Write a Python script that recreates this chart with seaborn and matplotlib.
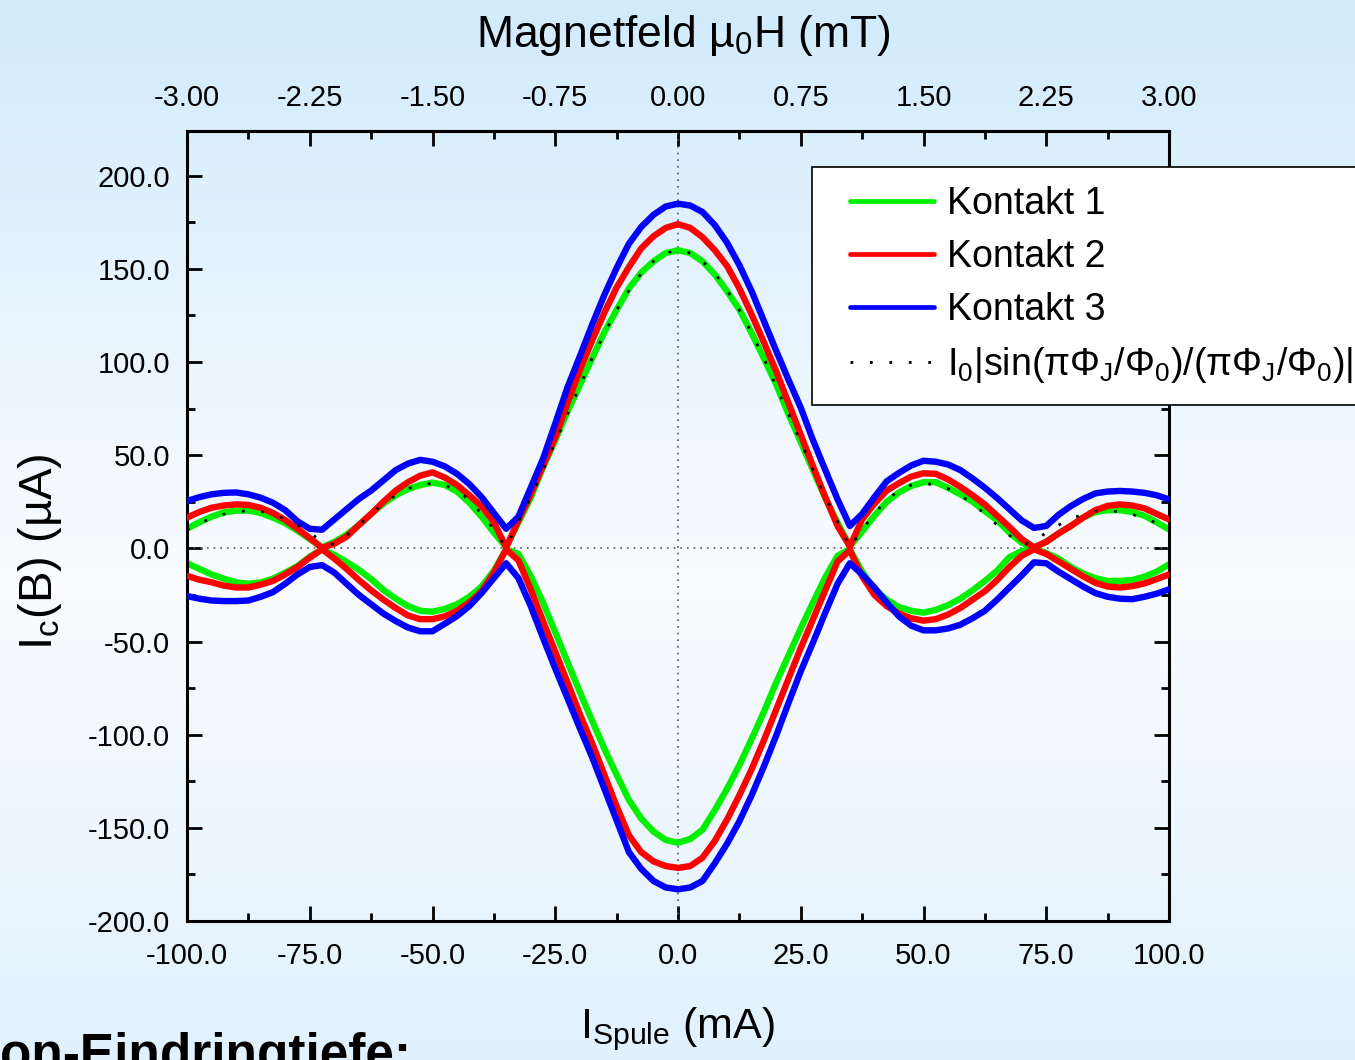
import numpy as np
import pandas as pd
import matplotlib
matplotlib.use("Agg")
import matplotlib.pyplot as plt
import seaborn as sns
from matplotlib.lines import Line2D
from matplotlib.patches import Rectangle
from matplotlib.ticker import MultipleLocator, FormatStrFormatter

# ---------------- data ----------------
I_SPULE = [-100.0, -97.5, -95.0, -92.5, -90.0, -87.5, -85.0, -82.5, -80.0, -77.5,
           -75.0, -72.5, -70.0, -67.5, -65.0, -62.5, -60.0, -57.5, -55.0, -52.5,
           -50.0, -47.5, -45.0, -42.5, -40.0, -37.5, -35.0, -32.5, -30.0, -27.5,
           -25.0, -22.5, -20.0, -17.5, -15.0, -12.5, -10.0, -7.5, -5.0, -2.5,
           0.0, 2.5, 5.0, 7.5, 10.0, 12.5, 15.0, 17.5, 20.0, 22.5,
           25.0, 27.5, 30.0, 32.5, 35.0, 37.5, 40.0, 42.5, 45.0, 47.5,
           50.0, 52.5, 55.0, 57.5, 60.0, 62.5, 65.0, 67.5, 70.0, 72.5,
           75.0, 77.5, 80.0, 82.5, 85.0, 87.5, 90.0, 92.5, 95.0, 97.5, 100.0]

K1_UP = [10.6, 14.0, 17.0, 19.3, 20.2, 20.3, 19.0, 16.5, 13.5, 9.5,
         5.0, 0.5, 3.5, 7.3, 12.5, 18.5, 24.0, 28.5, 31.8, 34.0,
         35.3, 34.0, 30.5, 24.5, 17.0, 8.5, 0.5, 14.0, 27.2, 43.5,
         58.0, 73.5, 87.5, 102.0, 116.0, 128.0, 139.5, 148.0, 154.0, 158.5,
         160.0, 158.5, 154.0, 147.0, 138.0, 128.2, 115.5, 102.0, 88.0, 72.0,
         57.0, 42.0, 27.0, 13.8, 1.0, 9.0, 17.5, 25.0, 30.0, 33.5,
         35.5, 35.5, 32.5, 29.0, 25.0, 20.0, 15.0, 8.5, 3.0, 0.5,
         3.5, 8.0, 12.0, 16.5, 19.5, 20.5, 20.5, 19.5, 17.5, 14.0, 10.2]

K1_LO = [-8.0, -11.0, -14.0, -16.3, -18.2, -19.0, -18.3, -16.3, -13.0, -9.5,
         -4.5, -0.5, -3.5, -7.3, -11.5, -16.5, -22.3, -27.0, -31.0, -33.5,
         -34.0, -32.5, -30.0, -26.0, -20.5, -12.0, -0.5, -3.0, -14.8, -29.0,
         -45.0, -61.0, -77.0, -92.5, -107.5, -121.5, -135.0, -145.0, -152.0, -156.5,
         -158.0, -156.0, -151.0, -140.5, -129.0, -116.3, -102.3, -87.7, -72.0, -57.5,
         -43.0, -29.0, -15.5, -4.0, -0.5, -12.5, -22.0, -27.5, -31.5, -33.5,
         -34.5, -33.0, -30.5, -27.0, -22.5, -17.5, -12.0, -4.7, -1.5, 0.0,
         -2.5, -5.5, -10.0, -13.5, -16.0, -17.5, -17.5, -17.0, -15.2, -12.5, -8.6]

K2_UP = [16.5, 19.5, 21.8, 23.0, 23.6, 23.3, 21.8, 19.0, 15.2, 10.5,
         5.5, 0.3, 2.5, 6.3, 12.5, 18.5, 25.0, 31.0, 35.5, 39.0,
         40.8, 38.0, 34.0, 28.5, 22.5, 14.0, 0.5, 15.0, 29.0, 44.3,
         59.5, 78.0, 95.5, 111.5, 126.5, 140.0, 151.0, 161.0, 167.5, 172.0,
         174.0, 172.0, 167.0, 160.0, 151.5, 139.5, 125.5, 110.5, 95.0, 78.0,
         61.0, 44.0, 27.5, 12.0, 1.0, 15.5, 24.0, 31.0, 35.0, 38.5,
         40.3, 40.0, 37.0, 33.0, 28.5, 23.5, 17.5, 11.5, 5.0, 0.5,
         3.5, 8.0, 12.0, 16.5, 20.5, 22.8, 23.6, 23.0, 21.5, 18.5, 15.5]

K2_LO = [-14.8, -16.8, -18.2, -20.0, -21.0, -21.0, -19.5, -17.5, -14.0, -10.0,
         -5.0, -0.5, -5.5, -11.0, -17.0, -22.5, -27.5, -32.0, -36.0, -38.0,
         -38.0, -36.5, -33.5, -29.0, -23.0, -13.0, -0.5, -6.5, -22.0, -39.0,
         -55.5, -72.0, -89.0, -104.5, -121.5, -138.5, -154.0, -163.0, -168.0, -170.5,
         -171.5, -170.5, -166.0, -157.0, -145.5, -132.5, -118.5, -103.0, -86.5, -70.0,
         -53.5, -38.0, -22.5, -7.0, -1.0, -15.0, -25.0, -31.0, -35.0, -37.5,
         -38.8, -38.0, -35.5, -32.0, -27.5, -23.0, -17.0, -10.0, -4.0, -0.5,
         -3.0, -7.0, -11.0, -15.0, -18.5, -20.5, -21.0, -20.3, -18.8, -16.5, -14.0]

K3_UP = [25.4, 27.5, 29.0, 29.8, 30.0, 29.0, 27.2, 24.5, 20.5, 14.5,
         10.5, 10.0, 15.5, 21.0, 26.5, 31.0, 36.5, 42.0, 45.5, 47.5,
         46.5, 44.0, 40.0, 34.5, 27.5, 19.0, 10.5, 17.0, 32.5, 48.0,
         67.0, 86.5, 103.0, 120.0, 136.0, 150.5, 163.5, 172.5, 179.0, 183.5,
         185.0, 184.0, 180.5, 173.5, 164.0, 152.0, 138.0, 122.0, 106.0, 90.5,
         75.5, 58.0, 42.0, 26.3, 12.0, 18.5, 27.5, 36.0, 40.5, 44.5,
         47.0, 46.5, 45.0, 42.0, 37.5, 32.5, 27.0, 21.0, 15.0, 11.0,
         12.0, 18.0, 22.7, 26.5, 29.5, 30.5, 30.8, 30.5, 29.8, 28.5, 26.3]

K3_LO = [-25.6, -27.0, -28.0, -28.3, -28.3, -28.0, -26.0, -23.5, -19.0, -14.0,
         -10.0, -9.0, -13.0, -19.0, -25.0, -30.0, -35.0, -39.0, -42.5, -44.5,
         -44.5, -40.5, -36.3, -31.0, -24.0, -16.0, -8.0, -16.0, -31.0, -48.0,
         -64.5, -80.5, -96.5, -112.0, -129.0, -146.0, -163.0, -172.0, -178.5, -182.0,
         -183.0, -182.0, -178.5, -169.0, -158.5, -146.5, -132.5, -117.0, -100.5, -83.0,
         -66.0, -50.5, -34.5, -19.0, -8.0, -14.0, -21.0, -29.0, -36.5, -41.5,
         -44.0, -44.0, -43.0, -41.0, -37.5, -33.5, -27.5, -21.0, -14.5, -7.5,
         -8.0, -12.5, -16.5, -20.5, -24.0, -26.0, -27.0, -27.3, -26.0, -24.3, -22.0]

FIT = [10.0, 13.5, 16.0, 18.3, 19.5, 20.3, 19.8, 18.3, 15.8, 12.5,
       8.5, 3.5, 2.0, 7.0, 12.5, 18.5, 24.0, 28.5, 32.0, 34.0,
       35.0, 34.0, 31.0, 26.0, 18.5, 10.0, 0.5, 14.5, 27.5, 42.0,
       57.0, 72.0, 87.0, 102.0, 115.5, 128.0, 138.5, 147.5, 154.0, 158.5,
       160.0, 158.5, 154.0, 147.5, 138.5, 128.0, 115.5, 102.0, 87.0, 72.0,
       57.0, 42.0, 27.5, 14.5, 0.5, 10.0, 18.5, 26.0, 31.0, 34.0,
       35.0, 34.0, 32.0, 28.5, 24.0, 18.5, 12.5, 7.0, 2.0, 3.5,
       8.5, 12.5, 15.8, 18.3, 19.8, 20.3, 19.5, 18.3, 16.0, 13.5, 10.0]

SERIES = ["Kontakt 1", "Kontakt 2", "Kontakt 3"]
FIT_LABEL = "I$_0$|sin(πΦ$_\\mathrm{J}$/Φ$_0$)/(πΦ$_\\mathrm{J}$/Φ$_0$)|"
X_TICKS_MA = [-100, -75, -50, -25, 0, 25, 50, 75, 100]
Y_TICKS = [-200, -150, -100, -50, 0, 50, 100, 150, 200]

# ---------------- style ----------------
sns.set_style("ticks")
plt.rcParams['font.family'] = ['Liberation Sans', 'DejaVu Sans']
plt.rcParams['mathtext.fontset'] = 'custom'
plt.rcParams['mathtext.rm'] = 'Liberation Sans'
plt.rcParams['mathtext.it'] = 'Liberation Sans:italic'
plt.rcParams['mathtext.bf'] = 'Liberation Sans:bold'
for k in ['axes.edgecolor', 'xtick.color', 'ytick.color', 'text.color', 'axes.labelcolor']:
    plt.rcParams[k] = 'black'

W, H = 1355, 1060
fig = plt.figure(figsize=(W / 100, H / 100), dpi=100)

# background gradient (slide background)
bg = fig.add_axes([0, 0, 1, 1], zorder=-10)
t = np.linspace(0, 1, 400)
stops = [0.0, 0.55, 1.0]
cols = np.array([[209, 235, 252], [250, 252, 255], [224, 241, 253]]) / 255.0
grad = np.stack([np.interp(t, stops, cols[:, c]) for c in range(3)], axis=1)
bg.imshow(grad[:, None, :], aspect='auto', extent=[0, 1, 0, 1], origin='upper')
bg.set_xlim(0, 1); bg.set_ylim(0, 1)
bg.axis('off')

ax = fig.add_axes([187 / W, 1 - 921 / H, (1169 - 187) / W, (921 - 131) / H])
ax.set_facecolor('none')

# zero lines
ax.axhline(0, color='#555555', lw=1.2, ls=(0, (1, 3)), zorder=1)
ax.axvline(0, color='#555555', lw=1.2, ls=(0, (1, 3)), zorder=1)

colors = {"Kontakt 1": "#00f000", "Kontakt 2": "#ff0000", "Kontakt 3": "#0000ff"}
traces = [("Kontakt 1", K1_UP, K1_LO, 2), ("Kontakt 2", K2_UP, K2_LO, 3), ("Kontakt 3", K3_UP, K3_LO, 4)]
for name, up, lo, z in traces:
    for yy in (up, lo):
        df = pd.DataFrame({"I": I_SPULE, "Ic": yy})
        sns.lineplot(data=df, x="I", y="Ic", color=colors[name], lw=4.6, ax=ax,
                     sort=False, estimator=None, legend=False, zorder=z,
                     solid_capstyle='round', solid_joinstyle='round')

df_fit = pd.DataFrame({"I": I_SPULE, "Ic": FIT})
sns.lineplot(data=df_fit, x="I", y="Ic", color='black', lw=2.0, ls=(0, (1, 6)), ax=ax,
             sort=False, estimator=None, legend=False, zorder=5)

ax.set_xlim(-100, 100)
ax.set_ylim(-200, 224)
ax.set_xlabel("")
ax.set_ylabel("")
ax.set_xticks(X_TICKS_MA)
ax.set_yticks(Y_TICKS)
ax.xaxis.set_minor_locator(MultipleLocator(12.5))
ax.yaxis.set_minor_locator(MultipleLocator(25))
ax.xaxis.set_major_formatter(FormatStrFormatter('%.1f'))
ax.yaxis.set_major_formatter(FormatStrFormatter('%.1f'))
ax.tick_params(which='both', direction='in', top=False, right=True, width=2.0, labelsize=21)
ax.tick_params(which='major', length=11)
ax.tick_params(which='minor', length=6)
ax.tick_params(axis='x', pad=15)
ax.tick_params(axis='y', pad=12)
for s in ax.spines.values():
    s.set_linewidth(2.2)
    s.set_color('black')

secax = ax.secondary_xaxis('top', functions=(lambda x: x * 0.03, lambda x: x / 0.03))
secax.xaxis.set_major_locator(MultipleLocator(0.75))
secax.xaxis.set_minor_locator(MultipleLocator(0.375))
secax.xaxis.set_major_formatter(FormatStrFormatter('%.2f'))
secax.tick_params(which='both', direction='in', width=2.0, labelsize=21, pad=14)
secax.tick_params(which='major', length=11)
secax.tick_params(which='minor', length=6)
secax.spines['top'].set_linewidth(2.2)

# axis titles
fig.text(683 / W, 1 - 47 / H, "Magnetfeld µ$_0$H (mT)", ha='center', va='baseline', fontsize=32)
fig.text(677 / W, 1 - 1038 / H, "I$_\\mathrm{Spule}$ (mA)", ha='center', va='baseline', fontsize=31)
fig.text(40 / W, 1 - 552 / H, "I$_\\mathrm{c}$(B) (µA)", rotation=90, ha='center', va='center', fontsize=34)

# slide text cut at the bottom
fig.text(0 / W, 1 - 1070 / H, "on-Eindringtiefe:", ha='left', va='baseline', fontsize=37, fontweight='bold')

# legend box (extends past the right edge)
fig.add_artist(Rectangle((812 / W, 1 - 405 / H), (1420 - 812) / W, (405 - 167) / H,
                         transform=fig.transFigure, facecolor='white', edgecolor='black',
                         lw=1.2, zorder=6, clip_on=False))
handles = [Line2D([], [], color=colors[s], lw=3.4) for s in SERIES]
handles.append(Line2D([], [], color='black', lw=2.0, ls=(0, (1, 6))))
labels = SERIES + [FIT_LABEL]
leg = fig.legend(handles, labels, loc='upper left', bbox_to_anchor=(850 / W, 1 - 186 / H),
                 frameon=False, fontsize=27, handlelength=2.25, handletextpad=0.33,
                 labelspacing=0.45, borderpad=0, borderaxespad=0)
leg.set_zorder(7)

fig.savefig('out.png', dpi=100)
